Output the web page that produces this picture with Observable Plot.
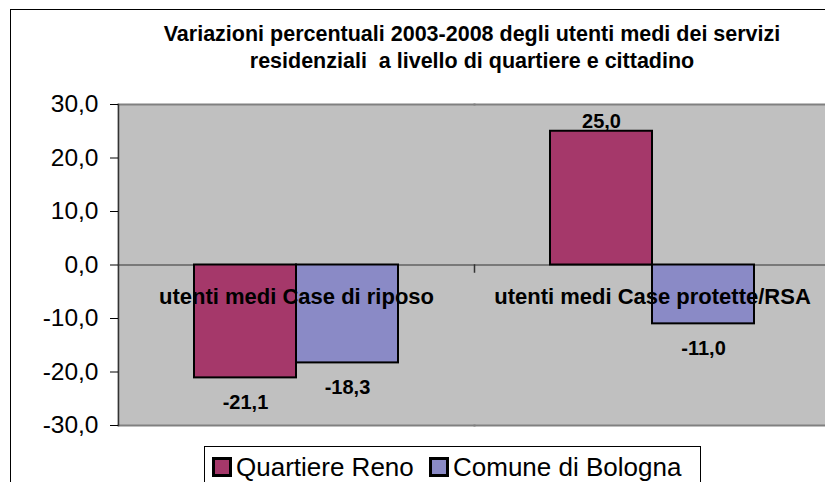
<!DOCTYPE html>
<html><head><meta charset="utf-8">
<script src="https://cdn.jsdelivr.net/npm/d3@7"></script>
<script src="https://cdn.jsdelivr.net/npm/@observablehq/plot@0.6"></script>
<style>
html,body{margin:0;padding:0;width:825px;height:482px;overflow:hidden;background:#fff;font-family:"Liberation Sans",Arial,Helvetica,sans-serif;color:#000;}
#outer{position:absolute;left:10px;top:9px;width:900px;height:600px;border:1.5px solid #000;}
#title{position:absolute;left:0;top:21px;width:944px;text-align:center;font-weight:bold;font-size:21.5px;line-height:27px;}
#chart{position:absolute;left:0;top:0;width:840px;}
#chart svg{max-width:none !important;}
#legend{position:absolute;left:204px;top:446px;width:495px;height:50px;border:1.5px solid #000;background:#fff;font-size:26px;}
.item{position:absolute;top:7px;white-space:nowrap;line-height:26px;}
.sw{display:inline-block;width:14px;height:14px;border:3px solid #000;margin-right:4px;vertical-align:-1px;}
</style></head>
<body>
<div id="outer"></div>
<div id="title">Variazioni percentuali 2003-2008 degli utenti medi dei servizi<br>residenziali&nbsp; a livello di quartiere e cittadino</div>
<div id="chart"></div>
<div id="legend"></div>
<script>
const categories = ["utenti medi Case di riposo", "utenti medi Case protette/RSA"];
const series = ["Quartiere Reno", "Comune di Bologna"];
const reno = [-21.1, 25.0];
const bologna = [-18.3, -11.0];
const yTicks = [-30, -20, -10, 0, 10, 20, 30];
const colors = ["#A5386A", "#8A8AC6"];

const fmt = v => v.toFixed(1).replace(".", ",");
const data = [];
categories.forEach((c, i) => {
  data.push({category: c, series: series[0], value: reno[i]});
  data.push({category: c, series: series[1], value: bologna[i]});
});

const W = 840, H = 482, mT = 104, mB = 57;
// y scale used to place the category-boundary tick just below the zero line
const yScale = Plot.scale({y: {domain: [-30, 30], range: [H - mB, mT]}});
const zeroY = yScale.apply(0);

const chart = Plot.plot({
  width: W, height: H,
  marginLeft: 118, marginRight: 10, marginTop: mT, marginBottom: mB,
  style: {fontFamily: '"Liberation Sans", Arial, sans-serif', background: "transparent", color: "#000", overflow: "visible", maxWidth: "none"},
  fx: {domain: categories, padding: 0, axis: null},
  x: {domain: series, paddingInner: 0, paddingOuter: 0.745, axis: null},
  y: {domain: [-30, 30], axis: null},
  color: {domain: series, range: colors},
  marks: [
    Plot.frame({fill: "#c0c0c0", insetLeft: -1, insetRight: -1}),
    Plot.frame({anchor: "top", stroke: "#808080", strokeWidth: 2}),
    Plot.frame({anchor: "bottom", stroke: "#808080", strokeWidth: 2}),
    Plot.ruleY([0], {stroke: "#333", strokeWidth: 1}),
    Plot.frame({anchor: "left", stroke: "#333", strokeWidth: 1.5, facetAnchor: "right",
      insetTop: zeroY - mT, insetBottom: (H - mB) - zeroY - 7}),
    Plot.barY(data, {fx: "category", x: "series", y: "value", fill: "series", stroke: "#000", strokeWidth: 2}),
    Plot.frame({anchor: "left", stroke: "#333", strokeWidth: 1.5, facetAnchor: "left"}),
    Plot.axisY(yTicks, {tickFormat: fmt, tickSize: 8, tickPadding: 12, fontSize: 24.5, label: null, stroke: "#000"}),
    Plot.text(categories, {fx: d => d, y: () => 0, text: d => d, dy: 32, fontSize: 22, fontWeight: "bold", fill: "#000"}),
    Plot.text(data.filter(d => d.value >= 0), {fx: "category", x: "series", y: "value", text: d => fmt(d.value), dy: -10, fontSize: 20, fontWeight: "bold", fill: "#000"}),
    Plot.text(data.filter(d => d.value < 0), {fx: "category", x: "series", y: "value", text: d => fmt(d.value), dy: 25, fontSize: 20, fontWeight: "bold", fill: "#000"})
  ]
});
document.getElementById("chart").appendChild(chart);

const legend = document.getElementById("legend");
const lx = [7, 224];
series.forEach((s, i) => {
  const it = document.createElement("div");
  it.className = "item";
  it.style.left = lx[i] + "px";
  const sw = document.createElement("span");
  sw.className = "sw";
  sw.style.background = colors[i];
  it.appendChild(sw);
  it.appendChild(document.createTextNode(s));
  legend.appendChild(it);
});
</script>
</body></html>
